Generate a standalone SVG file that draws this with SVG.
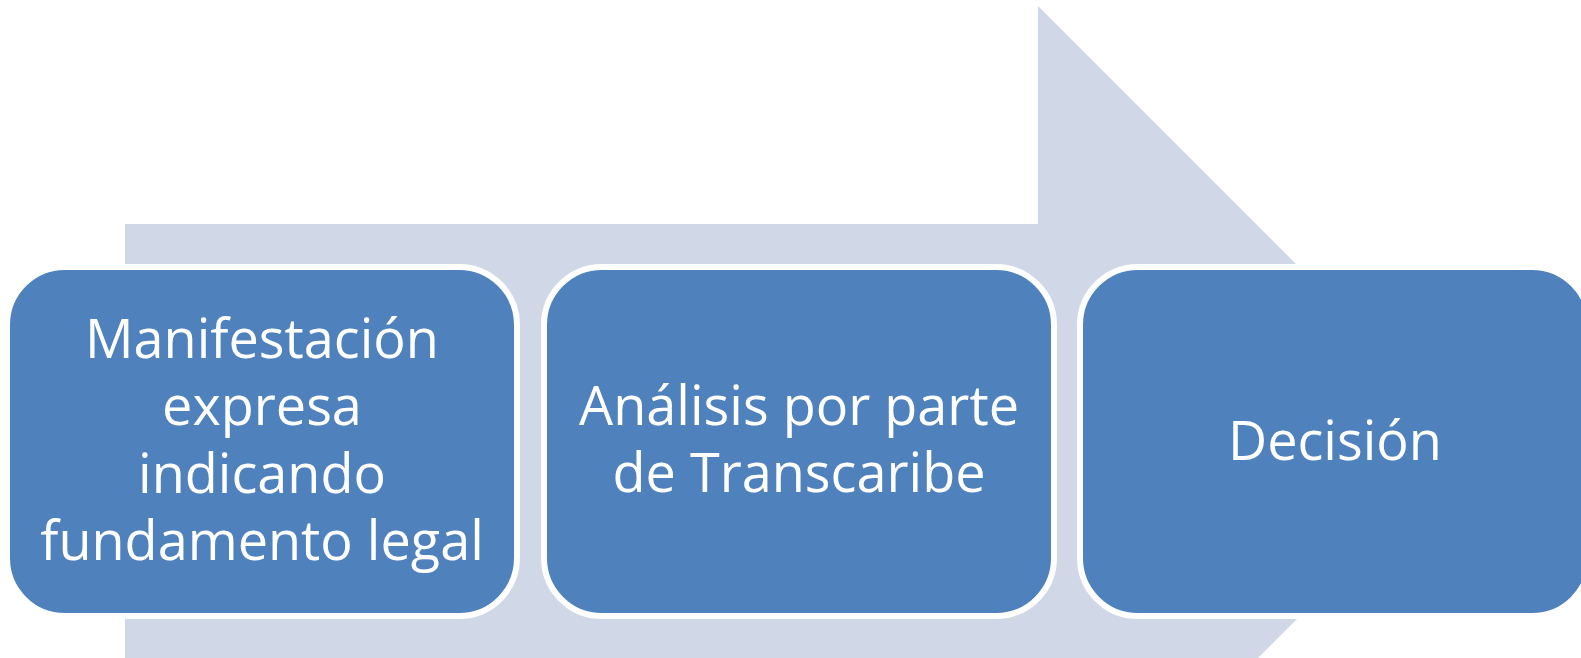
<svg xmlns="http://www.w3.org/2000/svg" width="1581" height="658" viewBox="0 0 1581 658">
  <style>
    .box { fill: #4F81BD; stroke: #FFFFFF; stroke-width: 6; }
    .lbl { font-family: "Open Sans", "Noto Sans", "DejaVu Sans", sans-serif; font-size: 54px; fill: #FFFFFF; text-anchor: middle; }
  </style>
  <rect width="1581" height="658" fill="#FFFFFF"/>
  <g id="connectors">
    <polygon id="arrow" points="125,224 1038,224 1038,6 1474,442 1038,878 1038,660 125,660" fill="#D0D8E8"/>
  </g>
  <g id="node1">
    <rect class="box" x="7" y="267" width="510" height="349" rx="58" ry="58"/>
    <text class="lbl" x="262" y="358">Manifestación</text>
    <text class="lbl" x="262" y="425">expresa</text>
    <text class="lbl" x="262" y="492.5">indicando</text>
    <text class="lbl" x="262" y="560">fundamento legal</text>
  </g>
  <g id="node2">
    <rect class="box" x="544" y="267" width="510" height="349" rx="58" ry="58"/>
    <text class="lbl" x="799" y="425">Análisis por parte</text>
    <text class="lbl" x="799" y="492">de Transcaribe</text>
  </g>
  <g id="node3">
    <rect class="box" x="1080" y="267" width="510" height="349" rx="58" ry="58"/>
    <text class="lbl" x="1335" y="460">Decisión</text>
  </g>
</svg>
